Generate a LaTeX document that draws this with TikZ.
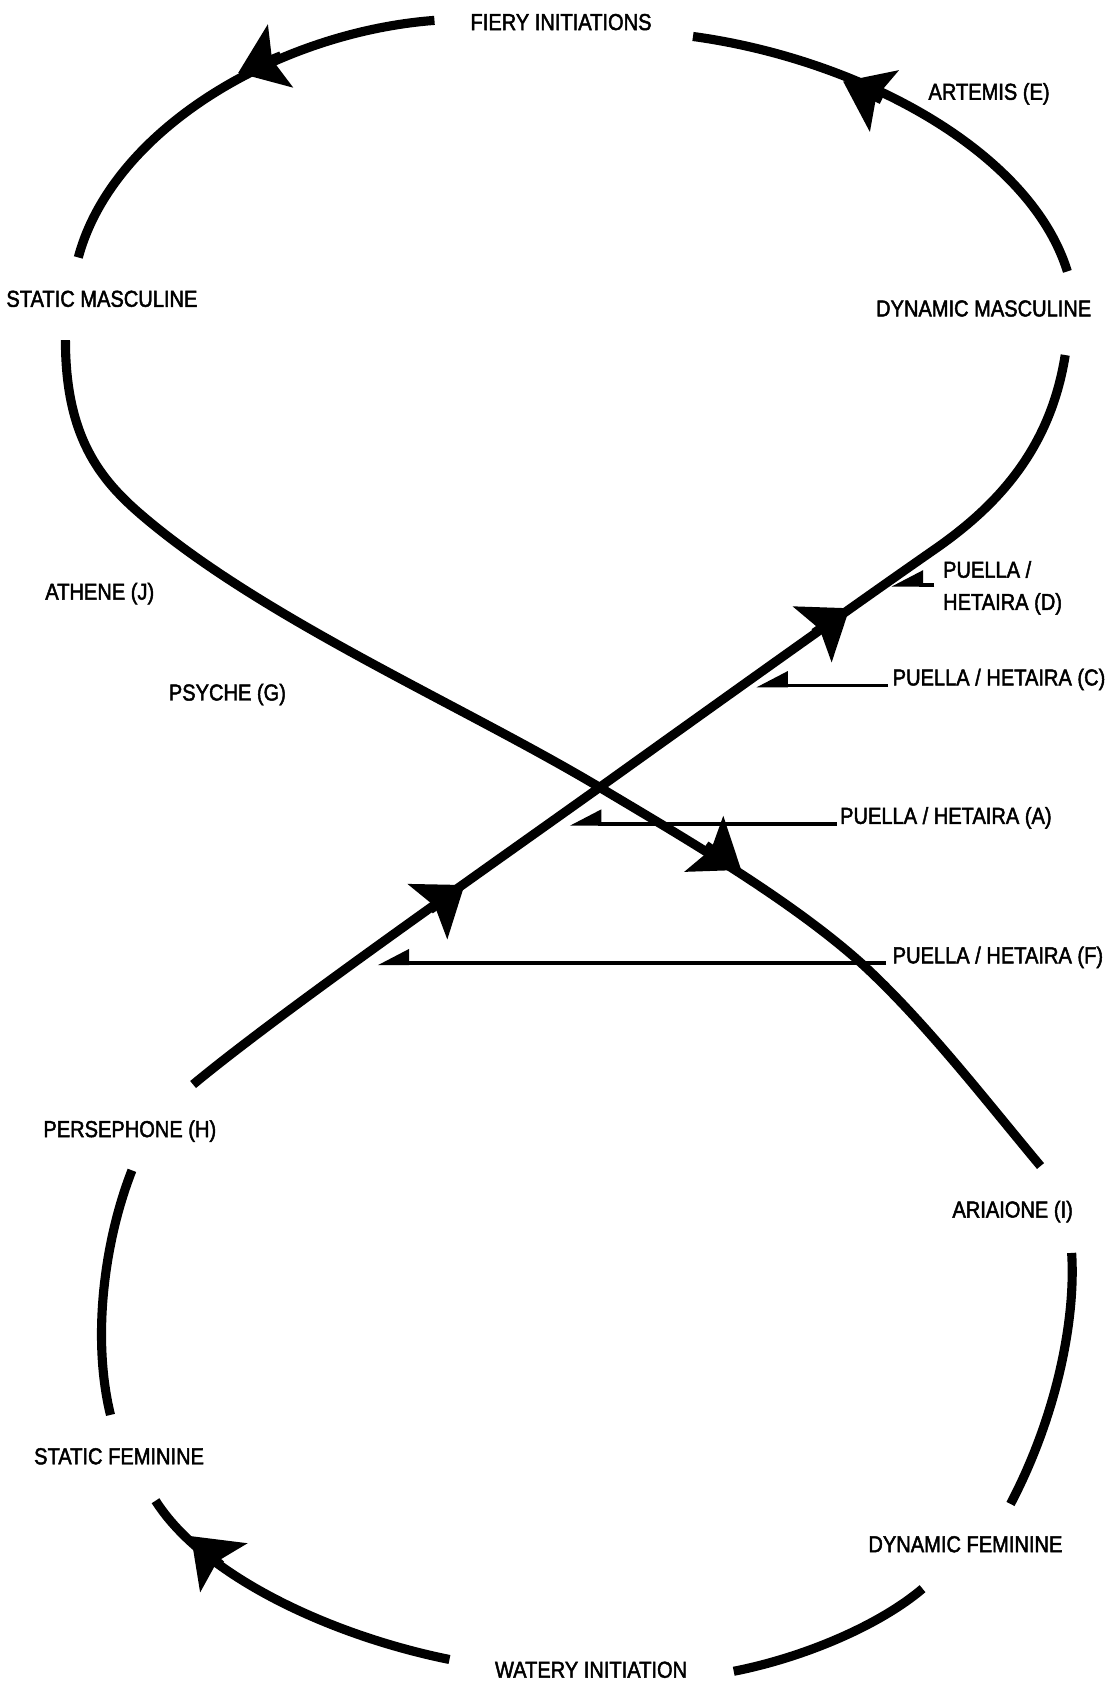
\documentclass[tikz,border=0pt]{standalone}
\usepackage{fontspec}
\setmainfont{Liberation Sans}[FakeStretch=0.87,FakeBold=2]
\usetikzlibrary{arrows.meta}
\begin{document}
\begin{tikzpicture}[x=1pt,y=-1pt,
  strand/.style={line width=8.5pt},
  flowtip/.style={line width=8.5pt,-{Stealth[length=42pt,width=62pt,inset=8pt]}},
  leader/.style={line width=3.5pt,-{Triangle[harpoon,swap,length=26pt,width=26pt]}},
  lbl/.style={font=\fontsize{21.5}{30}\selectfont,inner sep=0pt,anchor=base}
]
\fill[white] (0,0) rectangle (1040,1568);
\useasboundingbox (0,0) rectangle (1040,1568);

% labels
\node[lbl] (fiery)  at (523,28)   {FIERY INITIATIONS};
\node[lbl] (artemis) at (922,93)  {ARTEMIS (E)};
\node[lbl] (smasc)  at (95,286)   {STATIC MASCULINE};
\node[lbl] (dmasc)  at (917,295)  {DYNAMIC MASCULINE};
\node[lbl] (athene) at (93,559)   {ATHENE (J)};
\node[lbl] (psyche) at (212,653)  {PSYCHE (G)};
\node[lbl] (perse)  at (121,1060) {PERSEPHONE (H)};
\node[lbl] (ariai)  at (944,1135) {ARIAIONE (I)};
\node[lbl] (sfem)   at (111,1365) {STATIC FEMININE};
\node[lbl] (dfem)   at (900,1447) {DYNAMIC FEMININE};
\node[lbl] (watery) at (551,1564) {WATERY INITIATION};
\node[lbl,anchor=west,align=left] (pD) at (879,548) {PUELLA /\\HETAIRA (D)};
\node[lbl,anchor=base west] (pC) at (832,639) {PUELLA / HETAIRA (C)};
\node[lbl,anchor=base west] (pA) at (783,768) {PUELLA / HETAIRA (A)};
\node[lbl,anchor=base west] (pF) at (832,898) {PUELLA / HETAIRA (F)};

% top arc
\draw[strand] (73,240) .. controls (105,120) and (260,30) .. (405,19);
\draw[strand] (646,34) .. controls (800,55) and (960,140) .. (995,253);
% crossing strands
\draw[strand] (61,317) .. controls (61,407) and (93,447) .. (133,481)
  .. controls (247,578) and (430,657) .. (559,734)
  .. controls (636,780) and (736,838) .. (803,898)
  .. controls (862,952) and (919,1026) .. (970,1087);
\draw[strand] (993,331) .. controls (979,420) and (928,473) .. (870,513)
  .. controls (788,570) and (640,676) .. (559,734)
  .. controls (437,821) and (257,947) .. (180,1011);
% bottom arc
\draw[strand] (123,1091) .. controls (96,1160) and (86,1250) .. (103,1319);
\draw[strand] (145,1399) .. controls (190,1470) and (310,1525) .. (419,1547);
\draw[strand] (684,1558) .. controls (750,1545) and (820,1515) .. (860,1481);
\draw[strand] (942,1402) .. controls (985,1320) and (1003,1230) .. (999,1168);

% flow arrowheads
\coordinate (t1) at (222,68);   \coordinate (s1) at (262,52);
\coordinate (t2) at (786,76);   \coordinate (s2) at (822,93);
\coordinate (t3) at (691,811);  \coordinate (s3) at (658,788);
\coordinate (t4) at (792,567);  \coordinate (s4) at (759,590);
\coordinate (t5) at (433,825);  \coordinate (s5) at (401,848);
\coordinate (t6) at (178,1432); \coordinate (s6) at (206,1459);
\foreach \i in {1,...,6} { \draw[flowtip] (s\i) -- (t\i); }

% leaders
\coordinate (dD) at (831,545);
\coordinate (dC) at (705,639);
\coordinate (dA) at (531,768);
\coordinate (dF) at (352,898);
\draw[leader] ([xshift=-8pt]pD.west |- dD) -- (dD);
\draw[leader] ([xshift=-4pt]pC.base west) -- (dC);
\draw[leader] ([xshift=-3pt]pA.base west) -- (dA);
\draw[leader] ([xshift=-6pt]pF.base west) -- (dF);
\end{tikzpicture}
\end{document}
